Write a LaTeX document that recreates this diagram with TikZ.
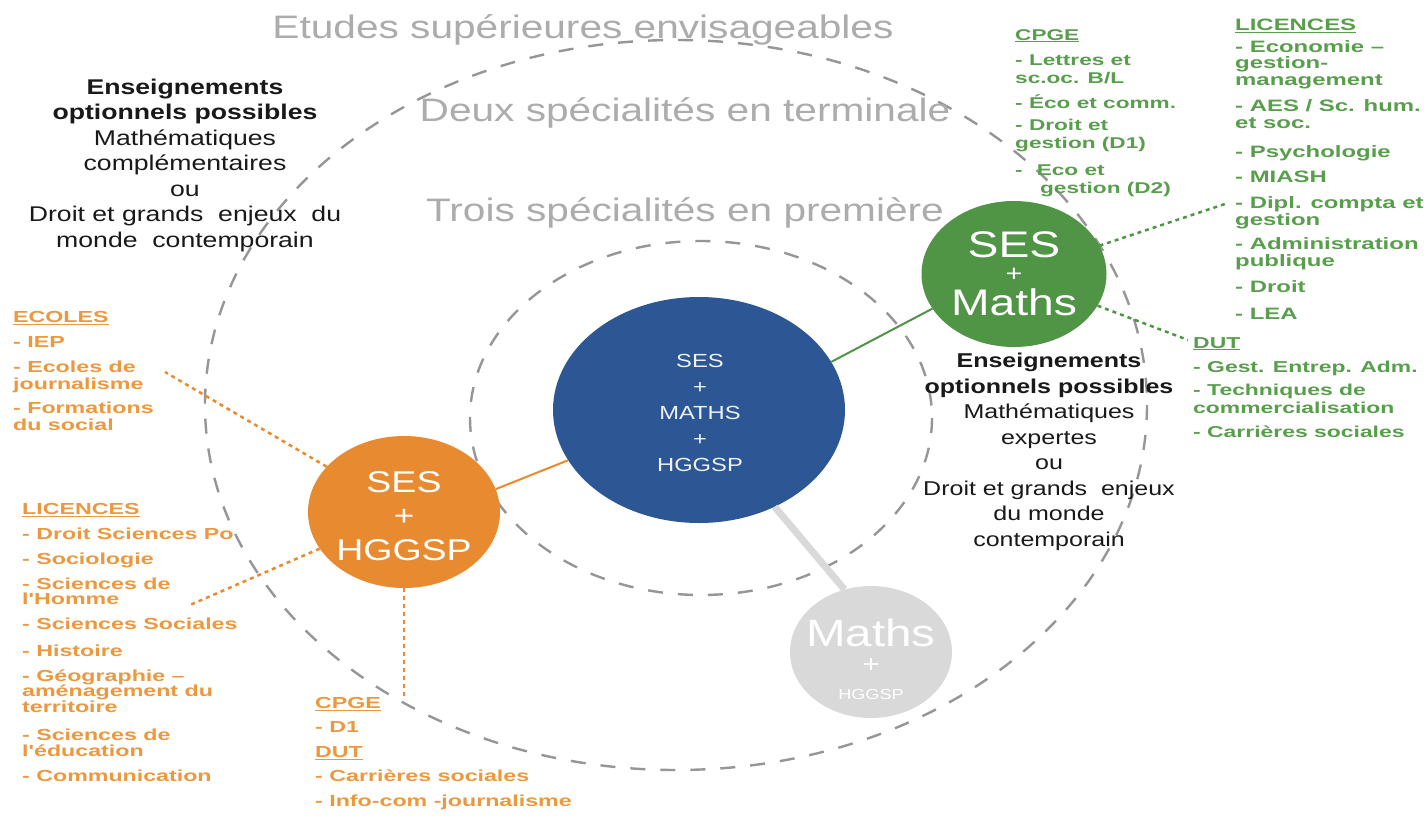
\documentclass[tikz,border=0pt]{standalone}
\usepackage{fontspec}
\setmainfont{Liberation Sans}[FakeStretch=1.25]
\newfontfamily\listfont{Liberation Sans}[FakeStretch=1.45]
\usetikzlibrary{shapes.geometric}
\definecolor{sesblue}{RGB}{44,87,148}
\definecolor{sesgreen}{RGB}{80,148,70}
\definecolor{sesorange}{RGB}{232,138,48}
\definecolor{lightgr}{RGB}{217,217,217}
\definecolor{listgreen}{RGB}{88,158,76}
\definecolor{listorange}{RGB}{236,152,62}
\definecolor{titlegray}{RGB}{172,172,172}
\definecolor{dashgray}{RGB}{150,150,150}
\definecolor{txtdark}{RGB}{25,25,25}
\tikzset{
  dashline/.style={draw=dashgray, line width=2.4pt, dash pattern=on 15pt off 15pt},
  titletxt/.style={text=titlegray, font=\fontsize{32.5}{38}\selectfont, inner sep=0pt},
  bigc/.style={ellipse, inner sep=0pt, draw=none},
  listg/.style={text=listgreen, align=left, anchor=north west, inner sep=0pt},
  listo/.style={text=listorange, align=left, anchor=north west, inner sep=0pt},
  blacktxt/.style={text=txtdark, align=center, inner sep=0pt},
  solidconn/.style={line width=2pt},
  dotconn/.style={line width=2.5pt, dash pattern=on 4pt off 4pt},
  ctext/.style={text=white, inner sep=0pt, align=center}
}
\begin{document}
\begin{tikzpicture}[x=1pt,y=-1pt]
\useasboundingbox (0,0) rectangle (1424,816);
\clip (0,0) rectangle (1424,816);
\fill[white] (0,0) rectangle (1424,816);

% dashed zones
\draw[dashline] (676,405) ellipse [x radius=471, y radius=365];
\draw[dashline] (701,418) ellipse [x radius=231, y radius=177];

% titles
\node[titletxt] (t1) at (583,30) {Etudes supérieures envisageables};
\node[titletxt] (t2) at (685,113) {Deux spécialités en terminale};
\node[titletxt] (t3) at (685,213) {Trois spécialités en première};

% circles
\node[bigc, fill=sesblue, minimum width=292pt, minimum height=226pt] (blue) at (699,410) {};
\node[bigc, fill=sesgreen, minimum width=185pt, minimum height=146pt] (green) at (1014,274) {};
\node[bigc, fill=sesorange, minimum width=192pt, minimum height=152pt] (orange) at (404,512) {};
\node[bigc, fill=lightgr, minimum width=162pt, minimum height=132pt] (grayc) at (871,652) {};

% circle texts
\node[ctext, text=white!92!sesblue, font=\fontsize{19}{26}\selectfont] (blueT) at (700,413) {SES\\+\\MATHS\\+\\HGGSP};
\node[ctext, font=\fontsize{37}{40}\selectfont] (gSES) at (1014,245) {SES};
\node[ctext, font=\fontsize{23}{25}\selectfont] (gPlus) at (1014,275) {+};
\node[ctext, font=\fontsize{37}{40}\selectfont] (gMaths) at (1014,302) {Maths};
\node[ctext, font=\fontsize{30}{32}\selectfont] (oSES) at (404,482) {SES};
\node[ctext, font=\fontsize{28}{30}\selectfont] (oPlus) at (404,517) {+};
\node[ctext, font=\fontsize{30}{32}\selectfont] (oH) at (404,550) {HGGSP};
\node[ctext, font=\fontsize{38}{40}\selectfont] (yMaths) at (871,633) {Maths};
\node[ctext, font=\fontsize{24}{26}\selectfont] (yPlus) at (871,666) {+};
\node[ctext, font=\fontsize{14.5}{16}\selectfont] (yH) at (871,695) {HGGSP};

% solid connectors
\draw[solidconn, draw=sesorange] (orange.14) -- (blue.201);
\draw[solidconn, draw=sesgreen] (blue.20) -- (green.203);
\draw[line width=7pt, draw=lightgr] (blue.308) -- (grayc.113);

% optional teachings
\node[blacktxt, font=\fontsize{21.3}{25.5}\selectfont] (optL) at (185,165)
 {\textbf{Enseignements}\\\textbf{optionnels possibles}\\Mathématiques\\complémentaires\\ou\\Droit et grands~ enjeux~ du\\monde~ contemporain};
\node[blacktxt, font=\fontsize{20}{25.5}\selectfont] (optR) at (1049,452)
 {\textbf{Enseignements}\\\textbf{optionnels possibles}\\Mathématiques\\expertes\\ou\\Droit et grands~ enjeux\\du monde\\contemporain};

% green lists
\node[listg, font=\listfont\bfseries\fontsize{15.6}{18}\selectfont] (gcpge) at (1015,29)
 {\underline{CPGE}\\[7pt]- Lettres et\\sc.oc. B/L\\[7pt]- Éco et comm.\\[4pt]- Droit et\\gestion (D1)\\[9pt]-\hspace*{0.9em}Eco et\\\hspace*{1.6em}gestion (D2)};
\node[listg, font=\listfont\bfseries\fontsize{16.5}{16.5}\selectfont] (glic) at (1235,19)
 {\underline{LICENCES}\\[5pt]- Economie –\\gestion-\\management\\[10pt]- AES / Sc. hum.\\et soc.\\[13pt]- Psychologie\\[8pt]- MIASH\\[10pt]- Dipl. compta et\\gestion\\[8pt]- Administration\\publique\\[10pt]- Droit\\[10pt]- LEA};
\node[listg, font=\listfont\bfseries\fontsize{15.8}{18}\selectfont] (gdut) at (1193,337)
 {\underline{DUT}\\[6pt]- Gest. Entrep. Adm.\\[5pt]- Techniques de\\commercialisation\\[6pt]- Carrières sociales};

% orange lists
\node[listo, font=\listfont\bfseries\fontsize{16}{17}\selectfont] (oecoles) at (13,311)
 {\underline{ECOLES}\\[8pt]- IEP\\[8pt]- Ecoles de\\journalisme\\[7pt]- Formations\\du social};
\node[listo, font=\listfont\bfseries\fontsize{16}{15.5}\selectfont] (olic) at (22,503)
 {\underline{LICENCES}\\[9.5pt]- Droit Sciences Po\\[9.5pt]- Sociologie\\[9.5pt]- Sciences de\\l'Homme\\[9.5pt]- Sciences Sociales\\[11pt]- Histoire\\[9.5pt]- Géographie –\\aménagement du\\territoire\\[13pt]- Sciences de\\l'éducation\\[10pt]- Communication};
\node[listo, font=\listfont\bfseries\fontsize{16}{24.5}\selectfont] (ocd) at (315,697)
 {\underline{CPGE}\\- D1\\\underline{DUT}\\- Carrières sociales\\- Info-com -journalisme};

% dotted connectors
\coordinate (ecoEnd) at (165,372);
\coordinate (licEnd) at (190,605);
\coordinate (cpgeEnd) at (404,700);
\coordinate (glicEnd) at (1228,203);
\coordinate (gdutEnd) at (1188,340);
\draw[dotconn, draw=sesorange] (orange) -- (ecoEnd);
\draw[dotconn, draw=sesorange] (orange) -- (licEnd);
\draw[dotconn, draw=sesorange] (orange) -- (cpgeEnd);
\draw[dotconn, draw=sesgreen] (green) -- (glicEnd);
\draw[dotconn, draw=sesgreen] (green) -- (gdutEnd);
\end{tikzpicture}
\end{document}
